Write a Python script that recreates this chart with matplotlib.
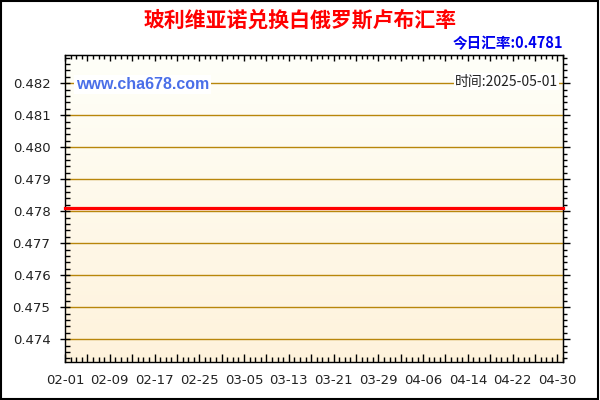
import numpy as np
import matplotlib.pyplot as plt
from matplotlib.ticker import MultipleLocator, FuncFormatter
from matplotlib.patches import Rectangle

# data (day offset from 02-01, rate)
days = [0, 8, 16, 24, 32, 40, 48, 56, 64, 72, 80, 88, 89]
rates = [0.4781, 0.4781, 0.4781, 0.4781, 0.4781, 0.4781, 0.4781,
         0.4781, 0.4781, 0.4781, 0.4781, 0.4781, 0.4781]
tick_days = [0, 8, 16, 24, 32, 40, 48, 56, 64, 72, 80, 88]
tick_labels = ['02-01', '02-09', '02-17', '02-25', '03-05', '03-13',
               '03-21', '03-29', '04-06', '04-14', '04-22', '04-30']
y_ticks = [0.474, 0.475, 0.476, 0.477, 0.478, 0.479, 0.480, 0.481, 0.482]
title = '玻利维亚诺兑换白俄罗斯卢布汇率'
today = '今日汇率:0.4781'
date_txt = '时间:2025-05-01'
site = 'www.cha678.com'

cjk = ['Noto Sans CJK SC', 'DejaVu Sans']
lab = dict(zip(tick_days, tick_labels))

fig = plt.figure(figsize=(6, 4), dpi=100)
ax = fig.add_axes([65/600, 1-361.7/400, 498/600, 306.7/400])

ylo, yhi = 0.4733, 0.48288
xlo, xhi = 0, 89

# gradient background
grad = np.linspace(0, 1, 256).reshape(-1, 1)
top = np.array([1.0, 1.0, 0.975])
bot = np.array([0.996, 0.95, 0.86])
img = top + (bot - top) * grad[..., None]
ax.imshow(img, extent=[xlo, xhi, ylo, yhi], aspect='auto', origin='upper', zorder=0)

for v in y_ticks:
    ax.axhline(v, color='#B8860B', lw=1.0, zorder=1)

ax.plot(days, rates, color='#FF0000', lw=2.3, zorder=3, clip_on=False)

ax.set_xlim(xlo, xhi)
ax.set_ylim(ylo, yhi)

ax.xaxis.set_major_locator(MultipleLocator(4))
ax.xaxis.set_major_formatter(FuncFormatter(lambda v, p: lab.get(int(round(v)), '')))
ax.xaxis.set_minor_locator(MultipleLocator(1))
ax.set_yticks(y_ticks)
ax.set_yticklabels(['%.3f' % v for v in y_ticks])
ax.yaxis.set_minor_locator(MultipleLocator(0.0002))

ax.tick_params(axis='x', which='major', direction='in', length=6, width=1,
               labelsize=9.5, pad=9, colors='black', labelcolor='#222222')
ax.tick_params(axis='x', which='minor', direction='in', length=3.5, width=1)
ax.tick_params(axis='y', which='major', direction='inout', length=7, width=1,
               labelsize=9.5, pad=7, labelcolor='#222222')
ax.tick_params(axis='y', which='minor', direction='in', length=3.5, width=1)

# extra ticks on top and right
secx = ax.secondary_xaxis('top')
secx.xaxis.set_major_locator(MultipleLocator(4))
secx.xaxis.set_minor_locator(MultipleLocator(1))
secx.tick_params(which='major', direction='in', length=4, width=1, labeltop=False)
secx.tick_params(which='minor', direction='in', length=3, width=1)
secy = ax.secondary_yaxis('right')
secy.yaxis.set_major_locator(MultipleLocator(0.001))
secy.yaxis.set_minor_locator(MultipleLocator(0.0002))
secy.tick_params(which='major', direction='out', length=5, width=1, labelright=False)
secy.tick_params(which='minor', direction='out', length=3, width=1)

for sp in ax.spines.values():
    sp.set_linewidth(1)
    sp.set_color('black')

ax.text(0.022, 0.905, site, transform=ax.transAxes, ha='left', va='center',
        fontsize=11.5, fontweight='bold', color='#4A6FE8', family='Liberation Sans',
        bbox=dict(facecolor='white', edgecolor='none', pad=1.5), zorder=4)
ax.text(0.99, 0.913, date_txt, transform=ax.transAxes, ha='right', va='center',
        fontsize=10, color='#222222', family=cjk,
        bbox=dict(facecolor='white', edgecolor='none', pad=1.0), zorder=4)

fig.text(0.5, 0.95, title, ha='center', va='center', fontsize=15,
         fontweight='bold', color='#FF0000', family=cjk)
fig.text(0.938, 0.8925, today, ha='right', va='center', fontsize=10.5,
         fontweight='bold', color='#0000EE', family=cjk)

fig.patches.append(Rectangle((0.002, 0.003), 0.995, 0.994, transform=fig.transFigure,
                             fill=False, edgecolor='black', lw=1.5))

fig.savefig('out.png', dpi=100)
